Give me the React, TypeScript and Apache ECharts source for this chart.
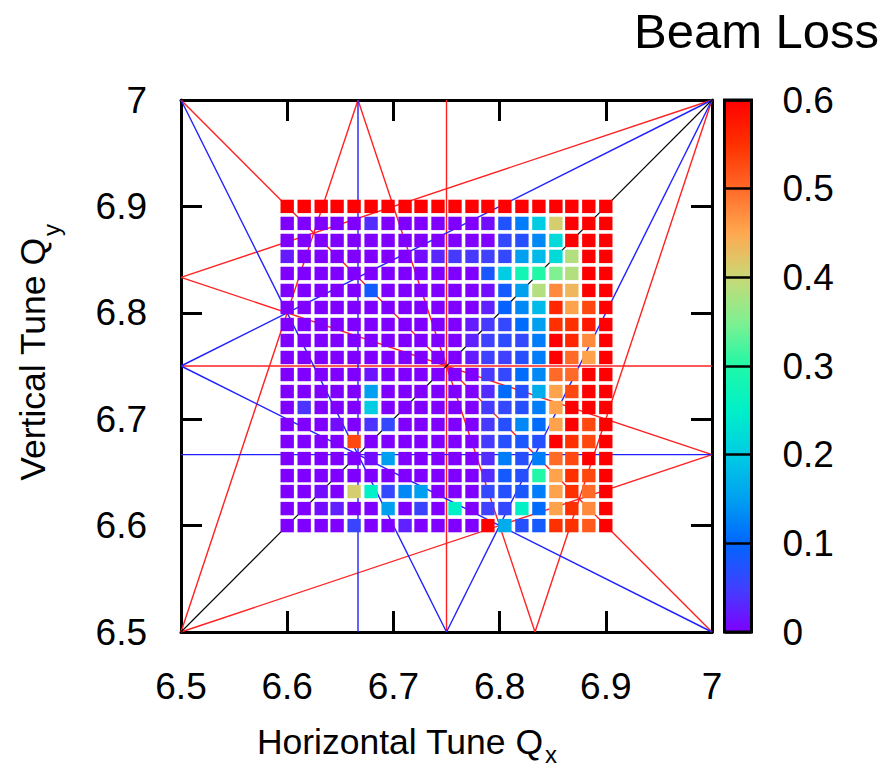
import React, { useEffect, useRef } from 'react';
import * as echarts from 'echarts';

// Grid of tunes (cell centres)
const qxTunes = [6.6, 6.616, 6.632, 6.647, 6.663, 6.679, 6.695, 6.711, 6.726, 6.742, 6.758, 6.774, 6.789, 6.805, 6.821, 6.837, 6.853, 6.868, 6.884, 6.9];
const qyTunes = [6.6, 6.616, 6.632, 6.647, 6.663, 6.679, 6.695, 6.711, 6.726, 6.742, 6.758, 6.774, 6.789, 6.805, 6.821, 6.837, 6.853, 6.868, 6.884, 6.9];

// Beam loss, rows listed from top (Qy = 6.9) to bottom (Qy = 6.6), columns Qx = 6.6 .. 6.9
const beamLoss = [
  [0.6, 0.6, 0.6, 0.6, 0.6, 0.6, 0.6, 0.6, 0.6, 0.6, 0.6, 0.6, 0.6, 0.6, 0.6, 0.6, 0.6, 0.6, 0.6, 0.6],
  [0, 0, 0, 0, 0, 0.035, 0, 0, 0, 0, 0, 0, 0.01, 0.075, 0.12, 0.2, 0.41, 0.6, 0.6, 0.6],
  [0, 0, 0, 0, 0, 0, 0, 0, 0, 0, 0, 0, 0, 0.06, 0.07, 0.13, 0.22, 0.6, 0.6, 0.6],
  [0.02, 0, 0, 0, 0, 0, 0, 0, 0.01, 0.03, 0.045, 0.045, 0.05, 0.06, 0.15, 0.18, 0.22, 0.385, 0.6, 0.6],
  [0, 0, 0, 0, 0, 0, 0, 0, 0, 0, 0, 0, 0.08, 0.2, 0.28, 0.3, 0.35, 0.385, 0.6, 0.6],
  [0, 0, 0, 0, 0, 0.085, 0, 0, 0, 0, 0, 0, 0.01, 0.085, 0.15, 0.385, 0.475, 0.435, 0.6, 0.6],
  [0, 0, 0, 0, 0, 0, 0, 0, 0, 0, 0, 0, 0.025, 0.095, 0.13, 0.18, 0.56, 0.455, 0.53, 0.6],
  [0, 0, 0, 0, 0, 0, 0, 0, 0, 0, 0, 0.02, 0.045, 0.06, 0.105, 0.15, 0.55, 0.55, 0.575, 0.6],
  [0, 0, 0, 0, 0, 0, 0, 0, 0, 0, 0, 0.025, 0.05, 0.065, 0.06, 0.12, 0.6, 0.56, 0.475, 0.6],
  [0, 0, 0, 0, 0, 0, 0, 0, 0, 0, 0, 0.02, 0.05, 0.05, 0.07, 0.12, 0.6, 0.5, 0.455, 0.6],
  [0, 0, 0, 0, 0, 0.015, 0, 0, 0, 0, 0, 0, 0.045, 0.06, 0.105, 0.13, 0.5, 0.5, 0.6, 0.6],
  [0, 0, 0, 0, 0, 0.15, 0, 0, 0, 0, 0, 0, 0.035, 0.105, 0.07, 0.165, 0.455, 0.53, 0.6, 0.6],
  [0, 0.04, 0, 0, 0, 0.2, 0, 0, 0, 0, 0, 0, 0.045, 0.06, 0.07, 0.12, 0.455, 0.6, 0.6, 0.6],
  [0, 0, 0, 0.01, 0, 0.04, 0.06, 0, 0, 0, 0, 0, 0.045, 0.07, 0.13, 0.105, 0.455, 0.6, 0.53, 0.6],
  [0, 0, 0, 0, 0.53, 0, 0, 0, 0, 0, 0, 0, 0.045, 0.07, 0.08, 0.07, 0.6, 0.55, 0.53, 0.6],
  [0, 0, 0, 0, 0, 0.01, 0.15, 0, 0, 0, 0, 0, 0.035, 0.12, 0.07, 0.12, 0.5, 0.53, 0.6, 0.6],
  [0, 0, 0, 0, 0, 0, 0, 0, 0, 0, 0, 0, 0.035, 0.085, 0.07, 0.3, 0.455, 0.55, 0.53, 0.6],
  [0, 0, 0.01, 0, 0.41, 0.25, 0.06, 0.13, 0.15, 0, 0, 0, 0.06, 0.07, 0.08, 0.12, 0.455, 0.55, 0.5, 0.6],
  [0, 0, 0.01, 0.025, 0, 0, 0.15, 0, 0.055, 0, 0.25, 0, 0.05, 0.06, 0.25, 0.105, 0.455, 0.55, 0.475, 0.6],
  [0, 0, 0, 0, 0.055, 0, 0, 0.025, 0, 0, 0, 0, 0.6, 0.165, 0.07, 0.085, 0.55, 0.55, 0.515, 0.6],
];

// Resonance lines m*Qx + n*Qy = p
const resonanceBlack = [[1, -1, 0]];
const resonanceBlue = [[3, 0, 20], [0, 3, 20], [2, 1, 20], [1, 2, 20], [2, -1, 7], [-1, 2, 7]];
const resonanceRed = [[4, 0, 27], [0, 4, 27], [2, 2, 27], [1, 3, 27], [3, 1, 27], [3, -1, 13], [3, -1, 14], [-1, 3, 13], [-1, 3, 14]];

const axisTicks = [6.5, 6.6, 6.7, 6.8, 6.9, 7];
const lossTicks = [0, 0.1, 0.2, 0.3, 0.4, 0.5, 0.6];

// colour scale stops, 0 .. 0.6 in steps of 0.05
const paletteStops = ['#7f00ff', '#4040ff', '#0066ff', '#00a0f0', '#00cce4', '#00f0c8', '#20f8a8', '#80f090', '#cad876', '#ffa850', '#ff6a28', '#ff3000', '#ff0000'];

const FONT = '"Liberation Sans", Arial, Helvetica, sans-serif';

function clipLine(m: number, n: number, p: number): number[][] {
  const lo = axisTicks[0];
  const hi = axisTicks[axisTicks.length - 1];
  const pts: number[][] = [];
  const eps = 1e-9;
  if (n !== 0) {
    for (const x of [lo, hi]) {
      const y = (p - m * x) / n;
      if (y >= lo - eps && y <= hi + eps) pts.push([x, y]);
    }
  }
  if (m !== 0) {
    for (const y of [lo, hi]) {
      const x = (p - n * y) / m;
      if (x >= lo - eps && x <= hi + eps) pts.push([x, y]);
    }
  }
  const out: number[][] = [];
  for (const pt of pts) {
    if (!out.some((o) => Math.abs(o[0] - pt[0]) < 1e-6 && Math.abs(o[1] - pt[1]) < 1e-6)) out.push(pt);
  }
  return out.slice(0, 2);
}

const fmt = (v: number) => String(parseFloat(v.toFixed(2)));

export default function App() {
  const ref = useRef<HTMLDivElement>(null);
  useEffect(() => {
    if (!ref.current) return;
    const chart = echarts.init(ref.current, undefined, { renderer: 'svg' });

    const cellData: number[][] = [];
    beamLoss.forEach((row, r) => {
      const qy = qyTunes[qyTunes.length - 1 - r];
      row.forEach((v, c) => cellData.push([qxTunes[c], qy, v]));
    });
    const pitch = (qxTunes[qxTunes.length - 1] - qxTunes[0]) / (qxTunes.length - 1);

    const lineSeries: any[] = [];
    const addLines = (list: number[][], color: string, width: number) => {
      list.forEach(([m, n, p]) => {
        lineSeries.push({
          type: 'line',
          xAxisIndex: 0,
          yAxisIndex: 0,
          data: clipLine(m, n, p),
          symbol: 'none',
          silent: true,
          z: 1,
          lineStyle: { color, width },
        });
      });
    };
    addLines(resonanceRed, '#ff2020', 1.4);
    addLines(resonanceBlue, '#2020ff', 1.4);
    addLines(resonanceBlack, '#000000', 1.1);

    const mainAxis = (pos: string, showLabel: boolean, grid = 0) => ({
      type: 'value',
      gridIndex: grid,
      position: pos,
      min: 6.5,
      max: 7,
      interval: 0.1,
      axisLine: { show: true, lineStyle: { color: '#000', width: 3 } },
      axisTick: { show: true, inside: true, length: 21, lineStyle: { color: '#000', width: 3 } },
      axisLabel: {
        show: showLabel,
        formatter: fmt,
        fontSize: 37,
        fontFamily: FONT,
        color: '#000',
        margin: pos === 'bottom' ? 36 : 34,
      },
      splitLine: { show: false },
    });

    const heatIndex = lineSeries.length;

    chart.setOption({
      animation: false,
      backgroundColor: '#fff',
      grid: [
        { left: 181, top: 100, width: 531, height: 532, show: false },
        { left: 724.5, top: 100, width: 27, height: 532, show: false },
      ],
      xAxis: [
        mainAxis('bottom', true),
        mainAxis('top', false),
        { type: 'value', gridIndex: 1, show: false, min: 0, max: 1 },
      ],
      yAxis: [
        mainAxis('left', true),
        mainAxis('right', false),
        {
          type: 'value',
          gridIndex: 1,
          position: 'right',
          min: 0,
          max: 0.6,
          interval: 0.1,
          z: 10,
          axisLine: { show: false },
          axisTick: { show: false },
          splitLine: { show: true, lineStyle: { color: '#000', width: 2.5 } },
          axisLabel: { show: true, formatter: fmt, fontSize: 37, fontFamily: FONT, color: '#000', margin: 31 },
        },
      ],
      visualMap: {
        type: 'continuous',
        min: lossTicks[0],
        max: lossTicks[lossTicks.length - 1],
        dimension: 2,
        seriesIndex: heatIndex,
        calculable: false,
        orient: 'vertical',
        left: 724.5,
        top: 100,
        itemWidth: 27,
        itemHeight: 532,
        padding: 0,
        text: null,
        showLabel: false,
        inRange: { color: paletteStops },
      },
      series: [
        ...lineSeries,
        {
          type: 'custom',
          xAxisIndex: 0,
          yAxisIndex: 0,
          z: 3,
          silent: true,
          data: cellData,
          encode: { x: 0, y: 1 },
          renderItem: (params: any, api: any) => {
            const c = api.coord([api.value(0), api.value(1)]);
            const s = api.size([pitch, pitch]);
            const w = s[0] - 3.4;
            const h = s[1] - 3.4;
            return {
              type: 'rect',
              shape: { x: c[0] - w / 2, y: c[1] - h / 2, width: w, height: h },
              style: { fill: api.visual('color') },
            };
          },
        },
      ],
      graphic: [
        {
          type: 'rect',
          z: 100,
          shape: { x: 724.5, y: 100, width: 27, height: 532 },
          style: { fill: 'none', stroke: '#000', lineWidth: 3 },
        },
        {
          type: 'text',
          z: 100,
          x: 634,
          y: 31,
          style: { text: 'Beam Loss', fontSize: 49, fontFamily: FONT, fill: '#000', align: 'left', verticalAlign: 'middle', textAlign: 'left', textVerticalAlign: 'middle' },
        },
        {
          type: 'text',
          z: 100,
          x: 543,
          y: 741.5,
          style: { text: 'Horizontal Tune Q', fontSize: 35.5, fontFamily: FONT, fill: '#000', align: 'right', verticalAlign: 'middle', textAlign: 'right', textVerticalAlign: 'middle' },
        },
        {
          type: 'text',
          z: 100,
          x: 545,
          y: 754,
          style: { text: 'x', fontSize: 24, fontFamily: FONT, fill: '#000', align: 'left', verticalAlign: 'middle', textAlign: 'left', textVerticalAlign: 'middle' },
        },
        {
          type: 'text',
          z: 100,
          x: 33,
          y: 238,
          rotation: Math.PI / 2,
          style: { text: 'Vertical Tune Q', fontSize: 35.5, fontFamily: FONT, fill: '#000', align: 'right', verticalAlign: 'middle', textAlign: 'right', textVerticalAlign: 'middle' },
        },
        {
          type: 'text',
          z: 100,
          x: 51,
          y: 236,
          rotation: Math.PI / 2,
          style: { text: 'y', fontSize: 24, fontFamily: FONT, fill: '#000', align: 'left', verticalAlign: 'middle', textAlign: 'left', textVerticalAlign: 'middle' },
        },
      ],
    });
    return () => chart.dispose();
  }, []);
  return <div ref={ref} style={{ position: 'fixed', left: 0, top: 0, width: 886, height: 769 }} />;
}
